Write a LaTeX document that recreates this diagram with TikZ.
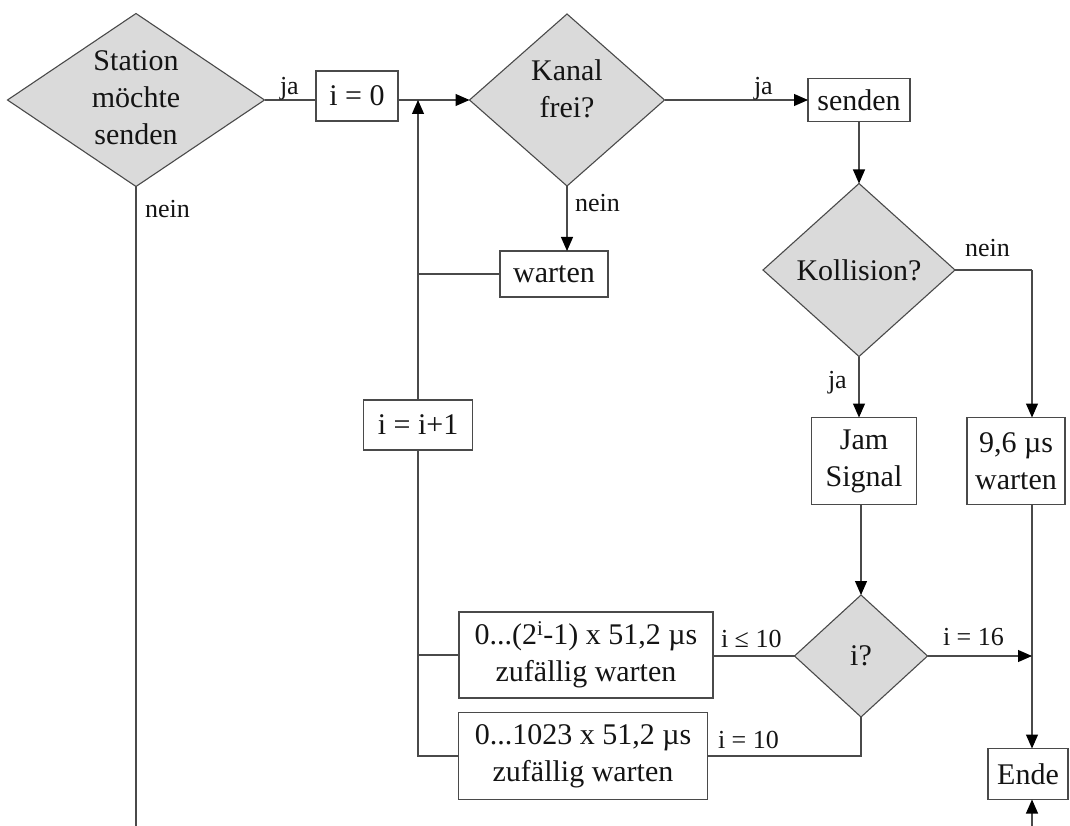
\documentclass[tikz,border=0pt]{standalone}
\usepackage{fontspec}
\setmainfont{Liberation Serif}
\usetikzlibrary{shapes.geometric,arrows.meta}
\definecolor{linegray}{HTML}{4A4A4A}
\definecolor{fillgray}{HTML}{DADADA}
\definecolor{inkc}{HTML}{141414}
\begin{document}
\begin{tikzpicture}[x=1pt,y=-1pt,
  every node/.style={inner sep=0pt, outer sep=0pt, text=inkc},
  box/.style={draw=linegray, line width=1.1pt, fill=white, rectangle,
              font=\fontsize{30}{37}\selectfont, align=center},
  decision/.style={draw=linegray, line width=1.1pt, fill=fillgray, diamond},
  dtext/.style={font=\fontsize{30}{37}\selectfont, align=center},
  lbl/.style={font=\fontsize{26}{30}\selectfont, anchor=base west},
  conn/.style={draw=linegray, line width=1.1pt},
  arr/.style={conn, -{Triangle[length=14pt,width=12pt,color=black]}}
]
\useasboundingbox (0,0) rectangle (1070,826);

% decisions
\node[decision, minimum width=257pt, minimum height=173pt] (st) at (136,100) {};
\node[dtext] (stt) at (136,98) {Station\\möchte\\senden};
\node[decision, minimum width=195pt, minimum height=172pt] (kanal) at (567,100) {};
\node[dtext] (kanalt) at (567,89) {Kanal\\frei?};
\node[decision, minimum width=192pt, minimum height=173pt] (kol) at (859,270) {};
\node[dtext] (kolt) at (859,270) {Kollision?};
\node[decision, minimum width=133pt, minimum height=122pt] (iq) at (861,656) {};
\node[dtext] (iqt) at (861,656) {i?};

% process boxes
\node[box, minimum width=82pt, minimum height=50pt] (i0) at (357,96) {i = 0};
\node[box, minimum width=102pt, minimum height=43pt] (senden) at (859,100) {senden};
\node[box, minimum width=108pt, minimum height=46pt] (warten) at (554,274) {warten};
\node[box, minimum width=109pt, minimum height=50pt] (iinc) at (418,425) {i = i+1};
\node[box, minimum width=105pt, minimum height=87pt] (jam) at (864,461) {Jam\\Signal};
\node[box, minimum width=98pt, minimum height=87pt] (w96) at (1016,461) {9,6 µs\\warten};
\node[box, minimum width=254pt, minimum height=86pt] (b1) at (586,655)
  {0...(2\textsuperscript{i}-1) x 51,2 µs\\zufällig warten};
\node[box, minimum width=249pt, minimum height=87pt] (b2) at (583,756)
  {0...1023 x 51,2 µs\\zufällig warten};
\node[box, minimum width=80pt, minimum height=51pt] (ende) at (1028,774) {Ende};

% junction points
\coordinate (loopx) at (418,100);
\coordinate (rcol) at (1032,270);
\coordinate (bottomL) at (136,826);
\coordinate (bottomR) at (1032,826);

% connectors
\draw[conn] (st.east) -- (st.east -| i0.west);
\draw[arr] (i0.east |- kanal.west) -- (kanal.west);
\draw[arr] (kanal.east) -- (kanal.east -| senden.west);
\draw[arr] (kanal.south) -- (kanal.south |- warten.north);
\draw[arr] (senden.south) -- (kol.north);
\draw[conn] (warten.west) -- (warten.west -| loopx);
\draw[arr] (iinc.north) -- (loopx);
\draw[conn] (iinc.south) -- (iinc.south |- b2.west) -- (b2.west);
\draw[conn] (b1.west) -- (b1.west -| loopx);
\draw[arr] (kol.south) -- (kol.south |- jam.north);
\draw[conn] (kol.east) -- (rcol);
\draw[arr] (rcol) -- (rcol |- w96.north);
\draw[arr] (w96.south -| rcol) -- (ende.north -| rcol);
\draw[arr] (jam.south -| iq.north) -- (iq.north);
\draw[conn] (iq.west) -- (b1.east |- iq.west);
\draw[arr] (iq.east) -- (iq.east -| rcol);
\draw[conn] (iq.south) -- (iq.south |- b2.east) -- (b2.east);
\draw[conn] (st.south) -- (bottomL);
\draw[arr] (bottomR) -- (ende.south -| rcol);

% branch labels
\node[lbl] (l1) at (280,95) {ja};
\node[lbl] (l2) at (145,218) {nein};
\node[lbl] (l3) at (754,95) {ja};
\node[lbl] (l4) at (575,212) {nein};
\node[lbl] (l5) at (965,256) {nein};
\node[lbl] (l6) at (828,388) {ja};
\node[lbl] (l7) at (721,647) {i ≤ 10};
\node[lbl] (l8) at (943,645) {i = 16};
\node[lbl] (l9) at (718,748) {i = 10};
\end{tikzpicture}
\end{document}
